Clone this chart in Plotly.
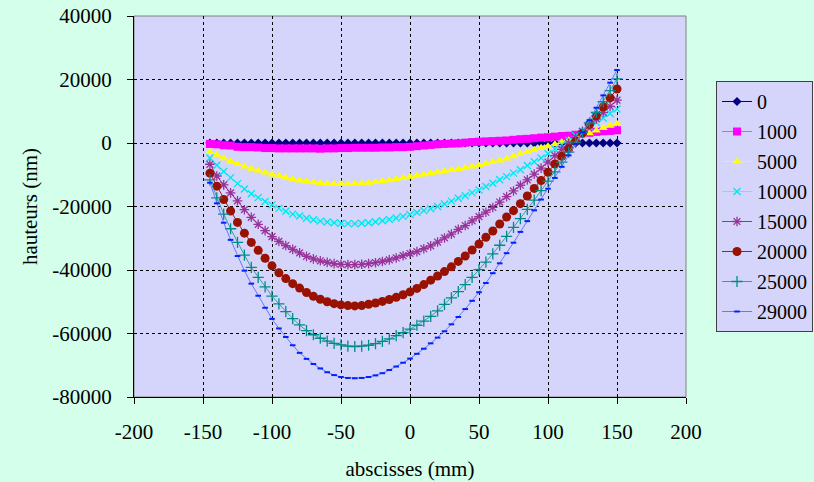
import plotly.graph_objects as go

# Positions le long du profil (mm)
abscisses = [-145, -140, -135, -130, -125, -120, -115, -110, -105, -100,
             -95, -90, -85, -80, -75, -70, -65, -60, -55, -50,
             -45, -40, -35, -30, -25, -20, -15, -10, -5, 0,
             5, 10, 15, 20, 25, 30, 35, 40, 45, 50,
             55, 60, 65, 70, 75, 80, 85, 90, 95, 100,
             105, 110, 115, 120, 125, 130, 135, 140, 145, 150]

# Hauteurs mesurées (nm) pour chaque charge
h0 = [0, 0, 0, 0, 0, 0, 0, 0, 0, 0,
      0, 0, 0, 0, 0, 0, 0, 0, 0, 0,
      0, 0, 0, 0, 0, 0, 0, 0, 0, 0,
      0, 0, 0, 0, 0, 0, 0, 0, 0, 0,
      0, 0, 0, 0, 0, 0, 0, 0, 0, 0,
      0, 0, 0, 0, 0, 0, 0, 0, 0, 0]

h1000 = [-300, -400, -700, -800, -1200, -1300, -1300, -1400, -1600, -1600,
         -1700, -1700, -1700, -1700, -1700, -1700, -1800, -1700, -1700, -1600,
         -1600, -1500, -1500, -1500, -1500, -1400, -1400, -1300, -1300, -1200,
         -1000, -800, -600, -400, -300, -200, -100, 100, 300, 400,
         500, 600, 700, 800, 1000, 1200, 1300, 1500, 1700, 1800,
         2000, 2200, 2300, 2600, 2900, 3200, 3500, 3700, 3800, 4000]

h5000 = [-2800, -3700, -4800, -5800, -6600, -7400, -8100, -8700, -9300, -9900,
         -10400, -10900, -11400, -11800, -12100, -12400, -12600, -12800, -12900, -12900,
         -12900, -12800, -12700, -12500, -12200, -12000, -11700, -11300, -11000, -10600,
         -10300, -9900, -9500, -9200, -8900, -8500, -8200, -7800, -7400, -7000,
         -6500, -6000, -5500, -4900, -4200, -3500, -2800, -2100, -1500, -1000,
         -400, 300, 900, 1600, 2400, 3100, 3900, 4700, 5400, 6100]

h10000 = [-4700, -7000, -9000, -10900, -12800, -14500, -16000, -17200, -18400, -19500,
          -20600, -21500, -22400, -23000, -23700, -24200, -24600, -24900, -25100, -25300,
          -25400, -25400, -25300, -25100, -24800, -24500, -24100, -23600, -23100, -22500,
          -21900, -21300, -20700, -20000, -19200, -18300, -17400, -16600, -15700, -14800,
          -13700, -12700, -11600, -10600, -9500, -8400, -7100, -5900, -4700, -3400,
          -1900, -500, 900, 2300, 3700, 5100, 6500, 7900, 9300, 10700]

h15000 = [-6700, -10400, -13200, -15700, -18200, -21000, -23400, -25600, -27600, -29500,
          -31000, -32300, -33500, -34600, -35700, -36500, -37100, -37600, -38000, -38200,
          -38300, -38300, -38200, -38000, -37700, -37300, -36800, -36200, -35500, -34800,
          -34200, -33300, -32400, -31200, -29900, -28700, -27200, -26000, -24500, -23200,
          -21800, -20300, -18600, -16900, -15100, -13300, -11600, -9800, -7900, -6000,
          -4000, -2000, -100, 1800, 3700, 5700, 7600, 9600, 11500, 13500]

h20000 = [-9500, -13600, -17800, -21400, -25000, -28400, -31300, -33800, -36300, -38700,
          -40900, -42700, -44300, -45700, -47100, -48300, -49200, -50000, -50600, -51000,
          -51200, -51300, -51200, -50800, -50400, -49900, -49300, -48600, -47800, -46900,
          -45800, -44600, -43200, -41900, -40500, -39000, -37300, -35600, -33700, -31800,
          -29700, -27700, -25500, -23300, -21300, -19100, -16700, -14300, -11800, -9200,
          -6600, -4200, -1800, 500, 3100, 5800, 8600, 11400, 14200, 17000]

h25000 = [-11600, -17300, -22400, -27000, -31300, -35300, -39200, -42300, -45300, -48200,
          -50700, -53100, -55300, -57300, -59100, -60400, -61500, -62400, -63100, -63600,
          -64000, -64100, -64000, -63700, -63200, -62500, -61700, -60700, -59700, -58600,
          -57400, -56100, -54600, -52900, -50800, -48800, -46800, -44600, -42300, -39900,
          -37500, -34900, -32200, -29400, -26600, -23800, -20900, -18000, -15000, -12000,
          -9100, -6000, -2900, 300, 3300, 6300, 9600, 13000, 16500, 20200]

h29000 = [-12500, -19000, -25100, -30500, -35600, -40200, -44300, -48100, -51900, -55400,
          -58400, -61100, -63700, -66100, -68000, -69600, -71000, -72200, -73100, -73700,
          -74000, -74100, -74000, -73700, -73200, -72500, -71500, -70400, -69200, -67900,
          -66400, -64800, -63100, -61300, -59300, -57100, -54800, -52300, -49700, -47000,
          -44100, -41000, -37900, -34700, -31400, -28000, -24600, -21200, -17800, -14400,
          -11000, -7500, -3900, -300, 3400, 7200, 11100, 15000, 19000, 23000]

# Graduations des axes
x_ticks = [-200, -150, -100, -50, 0, 50, 100, 150, 200]
x_labels = ["-200", "-150", "-100", "-50", "0", "50", "100", "150", "200"]
y_ticks = [-80000, -60000, -40000, -20000, 0, 20000, 40000]
y_labels = ["-80000", "-60000", "-40000", "-20000", "0", "20000", "40000"]

series = [
    ("0", h0, "#000080", "#000080", "diamond", 7, 0),
    ("1000", h1000, "#FF44FF", "#FF00FF", "square", 8, 0),
    ("5000", h5000, "#FFFF00", "#FFFF00", "triangle-up", 8, 0),
    ("10000", h10000, "#33FFFF", "#00E5F0", "x-thin-open", 7, 1.3),
    ("15000", h15000, "#993399", "#993399", "asterisk-open", 8, 1.3),
    ("20000", h20000, "#992222", "#991100", "circle", 9, 0),
    ("25000", h25000, "#33A0A0", "#008B8B", "cross-thin-open", 8, 1.3),
    ("29000", h29000, "#6677FF", "#0022FF", "line-ew-open", 4, 2),
]

fig = go.Figure()
for name, ys, lcol, mcol, sym, size, lw in series:
    marker = dict(symbol=sym, size=size, color=mcol)
    if sym.endswith("-open"):
        marker["line"] = dict(color=mcol, width=lw)
    fig.add_trace(go.Scatter(
        x=abscisses, y=ys, name=name, mode="lines+markers",
        line=dict(color=lcol, width=1), marker=marker,
        legendgroup=name,
    ))

serif = "Liberation Serif, Times New Roman, serif"

fig.update_layout(
    width=814, height=482,
    margin=dict(l=134, r=128, t=16, b=85, pad=0, autoexpand=False),
    paper_bgcolor="#D4FFEA",
    plot_bgcolor="#D5D5FB",
    font=dict(family=serif, size=21, color="black"),
    showlegend=True,
    legend=dict(
        x=716 / 814, xref="container", xanchor="left",
        y=1 - 81 / 482, yref="container", yanchor="top",
        bgcolor="#D5D5FB", bordercolor="#404040", borderwidth=1,
        font=dict(family=serif, size=20, color="black"),
        traceorder="grouped", tracegroupgap=1,
        itemwidth=30, maxheight=420,
    ),
    xaxis=dict(
        range=[-200, 200], tickmode="array", tickvals=x_ticks, ticktext=x_labels,
        showgrid=True, gridcolor="black", griddash="dot", gridwidth=1,
        zeroline=False, showline=True, linecolor="black", linewidth=1,
        ticks="outside", ticklen=6, tickcolor="black",
        ticklabelstandoff=10, automargin=False,
        title=dict(text="abscisses (mm)", standoff=18,
                   font=dict(family=serif, size=21)),
    ),
    yaxis=dict(
        range=[-80000, 40000], tickmode="array", tickvals=y_ticks, ticktext=y_labels,
        showgrid=True, gridcolor="black", griddash="dot", gridwidth=1,
        zeroline=False, showline=True, linecolor="black", linewidth=1,
        ticks="outside", ticklen=6, tickcolor="black",
        ticklabelstandoff=11, automargin=False,
        title=dict(text="hauteurs (nm)", standoff=8,
                   font=dict(family=serif, size=21)),
    ),
    shapes=[dict(type="rect", xref="paper", yref="paper", x0=0, y0=0, x1=1, y1=1,
                 line=dict(color="#808080", width=1), layer="below")],
)

fig.write_html("out.html")
